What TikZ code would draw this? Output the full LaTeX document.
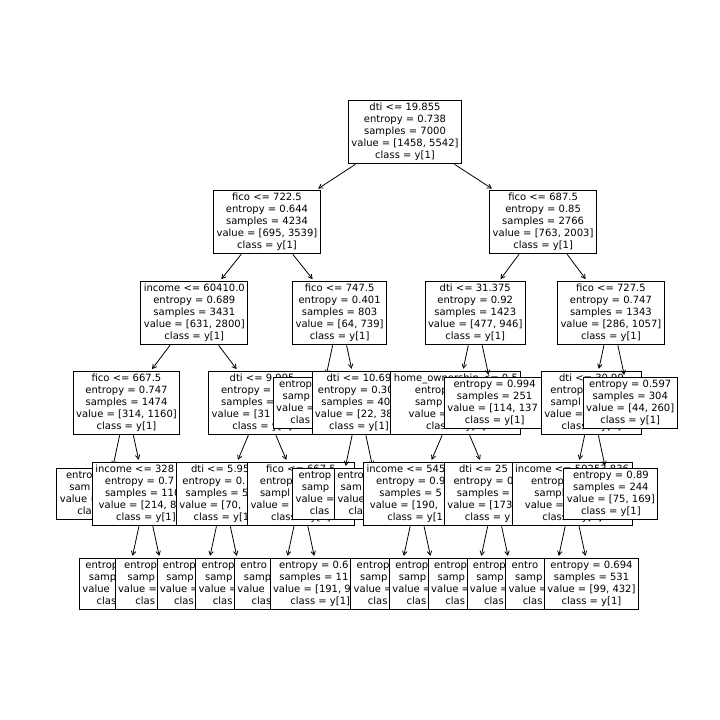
\documentclass[tikz,border=0pt]{standalone}
\usepackage{fontspec}
\newfontfamily\dvs{DejaVu Sans}
\usetikzlibrary{arrows.meta}
\newcommand\phn[1]{\phantom{#1}}
\begin{document}
\begin{tikzpicture}[x=1pt,y=-1pt,
  tn/.style={draw=black, fill=white, line width=0.9pt, inner xsep=3pt, inner ysep=3pt,
             align=center, font=\dvs\fontsize{10}{12}\selectfont},
  arr/.style={line width=0.8pt, -{Straight Barb[length=4pt,width=4.5pt]}, shorten >=2pt}]
\fill[white] (0,0) rectangle (720,720);
\useasboundingbox (0,0) rectangle (720,720);
% depth 0
\node[tn] (r) at (405,132) {dti <= 19.855\\entropy = 0.738\\samples = 7000\\value = [1458, 5542]\\class = y[1]};
% left subtree
\node[tn] (a) at (267,222) {fico <= 722.5\\entropy = 0.644\\samples = 4234\\value = [695, 3539]\\class = y[1]};
\draw[arr] (r) -- (a);
\node[tn] (aa) at (194.3,313) {income <= 60410.0\\entropy = 0.689\\samples = 3431\\value = [631, 2800]\\class = y[1]};
\draw[arr] (a) -- (aa);
\node[tn] (aaa) at (126.5,403) {fico <= 667.5\\entropy = 0.747\\samples = 1474\\value = [314, 1160]\\class = y[1]};
\draw[arr] (aa) -- (aaa);
\node[tn] (l4a) at (107.1,494) {entro\phn{py = 0.842}\\sam\phn{ples = 370}\\value =\phn{ [100, 270]}\\cla\phn{ss = y[1]}};
\draw[arr] (aaa) -- (l4a);
\node[tn] (l4b) at (145.9,494) {income <= 328\phn{50.0}\\entropy = 0.7\phn{09}\\samples = 110\phn{4}\\value = [214, 8\phn{90]}\\class = y[1]};
\draw[arr] (aaa) -- (l4b);
\node[tn] (l5a) at (126.5,584) {entrop\phn{y = 0.639}\\samp\phn{les = 370}\\value\phn{ = [60, 310]}\\clas\phn{s = y[1]}};
\draw[arr] (l4b) -- (l5a);
\node[tn] (l5b) at (165.25,584) {entrop\phn{y = 0.740}\\samp\phn{les = 734}\\value =\phn{ [154, 580]}\\clas\phn{s = y[1]}};
\draw[arr] (l4b) -- (l5b);
\node[tn] (l3b) at (262.1,403) {dti <= 9.995\\entropy =\phn{ 0.639}\\samples =\phn{ 1957}\\value = [31\phn{7, 1640]}\\class = y[1]};
\draw[arr] (aa) -- (l3b);
\node[tn] (l4c) at (223.4,494) {dti <= 5.95\phn{5}\\entropy = 0.\phn{576}\\samples = 5\phn{12}\\value = [70, \phn{442]}\\class = y[1\phn{]}};
\draw[arr] (l3b) -- (l4c);
\node[tn] (l5c) at (204,584) {entrop\phn{y = 0.527}\\samp\phn{les = 340}\\value =\phn{ [40, 300]}\\clas\phn{s = y[1]}};
\draw[arr] (l4c) -- (l5c);
\node[tn] (l5d) at (242.75,584) {entrop\phn{y = 0.669}\\samp\phn{les = 172}\\value =\phn{ [30, 142]}\\clas\phn{s = y[1]}};
\draw[arr] (l4c) -- (l5d);
\node[tn] (l4d) at (300.9,494) {fico <= 667.5\\entrop\phn{y = 0.660}\\sampl\phn{es = 1445}\\value =\phn{ [247, 1198]}\\class = y[1]};
\draw[arr] (l3b) -- (l4d);
\node[tn] (l5e) at (281.5,584) {entro\phn{py = 0.700}\\samp\phn{les = 296}\\value\phn{ = [56, 240]}\\clas\phn{s = y[1]}};
\draw[arr] (l4d) -- (l5e);
\node[tn] (l5f) at (320.25,584) {entropy = 0.6\phn{49}\\samples = 11\phn{49}\\value = [191, 9\phn{58]}\\class = y[1]};
\draw[arr] (l4d) -- (l5f);
\node[tn] (ab) at (339.6,313) {fico <= 747.5\\entropy = 0.401\\samples = 803\\value = [64, 739]\\class = y[1]};
\draw[arr] (a) -- (ab);
\node[tn] (l3c) at (320.25,403) {entrop\phn{y = 0.486}\\samp\phn{les = 398}\\value =\phn{ [42, 356]}\\clas\phn{s = y[1]}};
\draw[arr] (ab) -- (l3c);
\node[tn] (l3d) at (359,403) {dti <= 10.69\\entropy = 0.30\phn{4}\\samples = 40\phn{5}\\value = [22, 38\phn{3]}\\class = y[1]};
\draw[arr] (ab) -- (l3d);
\node[tn] (l4e) at (339.6,494) {entrop\phn{y = 0.298}\\samp\phn{les = 265}\\value =\phn{ [14, 251]}\\clas\phn{s = y[1]}};
\draw[arr] (l3d) -- (l4e);
\node[tn] (l4f) at (378.4,494) {entro\phn{py = 0.316}\\sam\phn{ples = 140}\\value\phn{ = [8, 132]}\\cla\phn{ss = y[1]}};
\draw[arr] (l3d) -- (l4f);
% right subtree
\node[tn] (b) at (543.1,222) {fico <= 687.5\\entropy = 0.85\\samples = 2766\\value = [763, 2003]\\class = y[1]};
\draw[arr] (r) -- (b);
\node[tn] (ba) at (475.25,313) {dti <= 31.375\\entropy = 0.92\\samples = 1423\\value = [477, 946]\\class = y[1]};
\draw[arr] (b) -- (ba);
\node[tn] (l3e) at (455.9,403) {home\_ownership <= 0.5\\entrop\phn{y = 0.893}\\samp\phn{les = 1172}\\value =\phn{ [363, 809]}\\class = y[1]};
\draw[arr] (ba) -- (l3e);
\node[tn] (l4g) at (417.1,494) {income <= 545\phn{00.0}\\entropy = 0.9\phn{31}\\samples = 5\phn{48}\\value = [190, \phn{358]}\\class = y[1\phn{]}};
\draw[arr] (l3e) -- (l4g);
\node[tn] (l5g) at (397.75,584) {entrop\phn{y = 0.895}\\samp\phn{les = 305}\\value =\phn{ [95, 210]}\\clas\phn{s = y[1]}};
\draw[arr] (l4g) -- (l5g);
\node[tn] (l5h) at (436.5,584) {entrop\phn{y = 0.967}\\samp\phn{les = 243}\\value =\phn{ [95, 148]}\\clas\phn{s = y[1]}};
\draw[arr] (l4g) -- (l5h);
\node[tn] (l4h) at (494.6,494) {dti <= 25\phn{.285}\\entropy = 0\phn{.851}\\samples =\phn{ 624}\\value = [173\phn{, 451]}\\class = y\phn{[1]}};
\draw[arr] (l3e) -- (l4h);
\node[tn] (l5i) at (475.25,584) {entrop\phn{y = 0.771}\\samp\phn{les = 389}\\value =\phn{ [88, 301]}\\clas\phn{s = y[1]}};
\draw[arr] (l4h) -- (l5i);
\node[tn] (l5j) at (514,584) {entrop\phn{y = 0.944}\\samp\phn{les = 235}\\value =\phn{ [85, 150]}\\clas\phn{s = y[1]}};
\draw[arr] (l4h) -- (l5j);
\node[tn] (l3f) at (494.6,403) {entropy = 0.994\\samples = 251\\value = [114, 137\phn{]}\\class = y[1]};
\draw[arr] (ba) -- (l3f);
\node[tn] (bb) at (610.9,313) {fico <= 727.5\\entropy = 0.747\\samples = 1343\\value = [286, 1057]\\class = y[1]};
\draw[arr] (b) -- (bb);
\node[tn] (l3g) at (591.5,403) {dti <= 30.99\\entrop\phn{y = 0.783}\\sampl\phn{es = 1039}\\value =\phn{ [242, 797]}\\class = y[1]};
\draw[arr] (bb) -- (l3g);
\node[tn] (l4i) at (572.1,494) {income <= 59253.836\\entrop\phn{y = 0.742}\\sampl\phn{es = 795}\\value =\phn{ [167, 628]}\\class = y[1]};
\draw[arr] (l3g) -- (l4i);
\node[tn] (l5k) at (552.75,584) {entro\phn{py = 0.823}\\samp\phn{les = 264}\\value =\phn{ [68, 196]}\\clas\phn{s = y[1]}};
\draw[arr] (l4i) -- (l5k);
\node[tn] (l5l) at (591.5,584) {entropy = 0.694\\samples = 531\\value = [99, 432]\\class = y[1]};
\draw[arr] (l4i) -- (l5l);
\node[tn] (l4j) at (610.9,494) {entropy = 0.89\\samples = 244\\value = [75, 169]\\class = y[1]};
\draw[arr] (l3g) -- (l4j);
\node[tn] (l3h) at (630.25,403) {entropy = 0.597\\samples = 304\\value = [44, 260]\\class = y[1]};
\draw[arr] (bb) -- (l3h);
\end{tikzpicture}
\end{document}
